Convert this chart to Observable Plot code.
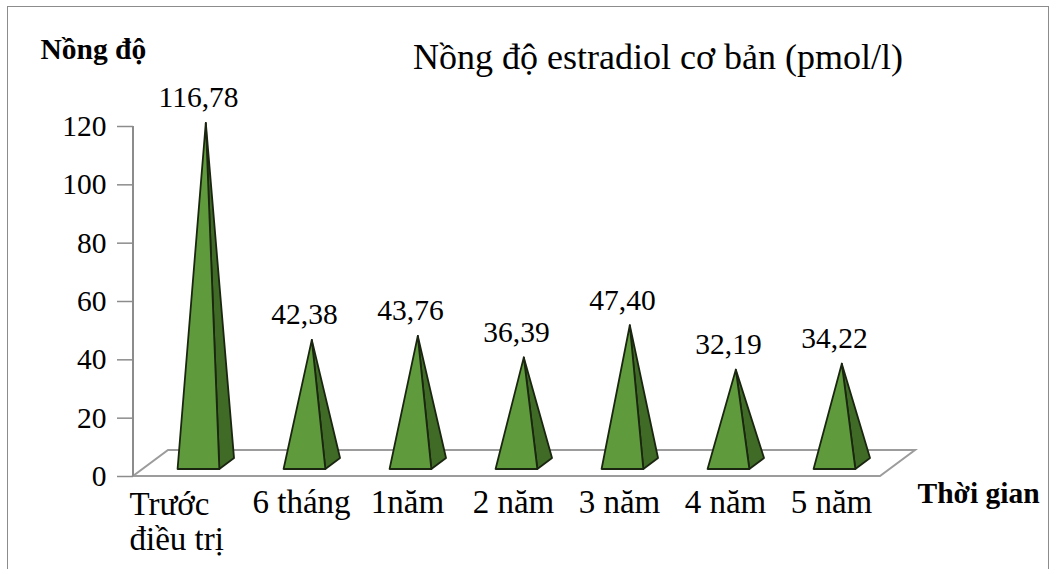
<!DOCTYPE html>
<html><head><meta charset="utf-8">
<script src="https://cdn.jsdelivr.net/npm/d3@7"></script>
<script src="https://cdn.jsdelivr.net/npm/@observablehq/plot@0.6"></script>
<style>
body{margin:0;background:#fff;}
#wrap{position:relative;width:1054px;height:569px;overflow:hidden;}
#border{position:absolute;left:7px;top:6px;width:1042px;height:620px;border:1.6px solid #8c8c8c;box-sizing:border-box;}
#wrap svg{position:absolute;left:0;top:0;}
</style></head><body><div id="wrap"><div id="border"></div></div>
<script>
const categories = ["Trước\nđiều trị", "6 tháng", "1năm", "2 năm", "3 năm", "4 năm", "5 năm"];
const values = [116.78, 42.38, 43.76, 36.39, 47.40, 32.19, 34.22];
const valueLabels = ["116,78", "42,38", "43,76", "36,39", "47,40", "32,19", "34,22"];
const yTicks = [0, 20, 40, 60, 80, 100, 120];
const title = "Nồng độ estradiol cơ bản (pmol/l)";
const yLabel = "Nồng độ";
const xLabel = "Thời gian";

const data = categories.map((c, i) => ({category: c, value: values[i], label: valueLabels[i]}));

// 3D look
const DEPTH = [35, -26];
const D_FRONT = 0.27, D_BACK = 0.69, D_MID = 0.48;
const HALF = 0.197; // half base width as fraction of band

function scene(index, scales, vals, dim) {
  const x = scales.x, y = scales.y;
  const bw = x.bandwidth();
  const L = dim.marginLeft, R = dim.width - dim.marginRight;
  const y0 = y(0), yTop = y(yTicks[yTicks.length - 1]);
  const g = d3.create("svg:g");
  // floor
  g.append("polygon")
    .attr("points", [[L, y0], [R, y0], [R + DEPTH[0], y0 + DEPTH[1]], [L + DEPTH[0], y0 + DEPTH[1]]].map(p => p.join(",")).join(" "))
    .attr("fill", "none").attr("stroke", "#9c9c9c").attr("stroke-width", 2);
  // y axis line
  g.append("line").attr("x1", L).attr("x2", L).attr("y1", y0).attr("y2", yTop)
    .attr("stroke", "#8c8c8c").attr("stroke-width", 2);
  for (const d of data) {
    const c = x(d.category) + bw / 2, hw = HALF * bw;
    const FL = [c - hw + D_FRONT * DEPTH[0], y0 + D_FRONT * DEPTH[1]];
    const FR = [c + hw + D_FRONT * DEPTH[0], y0 + D_FRONT * DEPTH[1]];
    const BR = [c + hw + D_BACK * DEPTH[0], y0 + D_BACK * DEPTH[1]];
    const A = [c + D_MID * DEPTH[0], y(d.value) + D_MID * DEPTH[1]];
    g.append("polygon").attr("points", [FR, BR, A].map(p => p.join(",")).join(" "))
      .attr("fill", "#3f6b26").attr("stroke", "#1b2611").attr("stroke-width", 1.8).attr("stroke-linejoin", "round");
    g.append("polygon").attr("points", [FL, FR, A].map(p => p.join(",")).join(" "))
      .attr("fill", "#5f9b3c").attr("stroke", "#1b2611").attr("stroke-width", 1.8).attr("stroke-linejoin", "round");
  }
  return g.node();
}

const plot = Plot.plot({
  width: 1054, height: 569,
  marginLeft: 133, marginRight: 174, marginTop: 126, marginBottom: 93,
  style: {fontFamily: "'Liberation Serif', 'Times New Roman', serif", background: "transparent", color: "black", overflow: "visible"},
  x: {type: "band", domain: categories, padding: 0, axis: null},
  y: {domain: [0, 120], axis: null, label: null},
  marks: [
    scene,
    Plot.axisY({ticks: yTicks, label: null, tickSize: 16, tickPadding: 11, fontSize: 29.5, stroke: "#8c8c8c", strokeWidth: 1.5, fill: "black", tickFormat: d => String(d)}),
    Plot.text(data, {x: "category", y: "value", text: "label", dx: 9, dy: -28.5, lineAnchor: "bottom", fontSize: 29.5, fill: "black"}),
    Plot.text(data.slice(1), {x: "category", text: "category", frameAnchor: "bottom", lineAnchor: "top", dx: 6, dy: 13, fontSize: 33, fill: "black"}),
    Plot.text(data.slice(0, 1), {x: "category", text: "category", frameAnchor: "bottom", lineAnchor: "top", textAnchor: "start", dx: -60, dy: 13, fontSize: 33, lineHeight: 1.07, fill: "black"}),
    Plot.text([title], {frameAnchor: "top-left", dx: 524.5, dy: -58, textAnchor: "middle", lineAnchor: "bottom", fontSize: 36, fill: "black"}),
    Plot.text([yLabel], {frameAnchor: "top-left", dx: -93, dy: -68, textAnchor: "start", lineAnchor: "bottom", fontSize: 29.5, fontWeight: "bold", fill: "black"}),
    Plot.text([xLabel], {frameAnchor: "bottom-right", dx: 37, dy: 26, textAnchor: "start", lineAnchor: "bottom", fontSize: 29.5, fontWeight: "bold", fill: "black"})
  ]
});
document.getElementById("wrap").appendChild(plot);
</script>
</body></html>
